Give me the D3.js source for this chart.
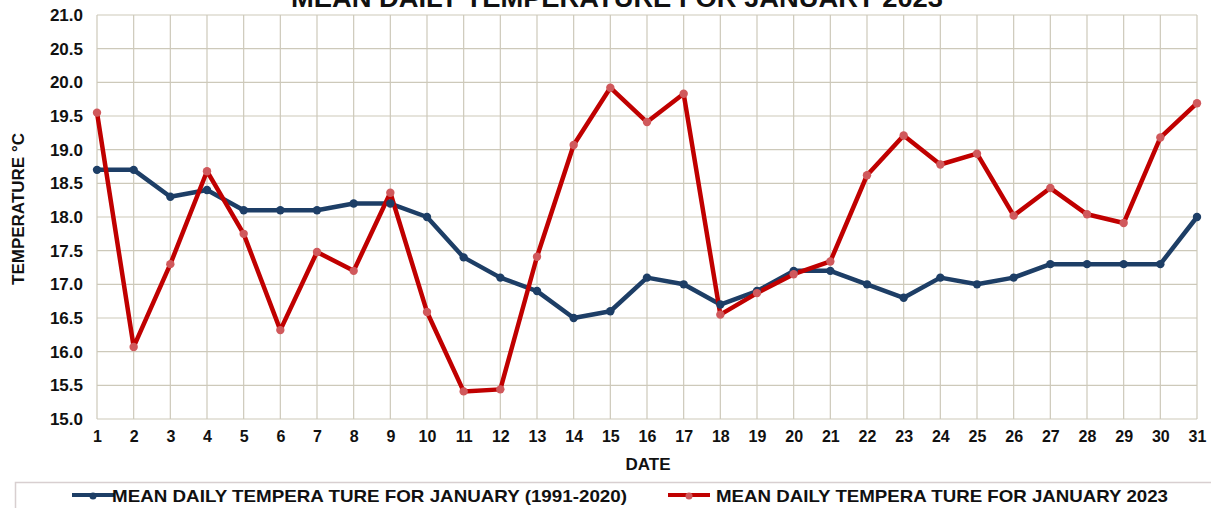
<!DOCTYPE html>
<html><head><meta charset="utf-8">
<script src="https://cdn.jsdelivr.net/npm/d3@7"></script>
<style>body{margin:0;background:#fff}svg{display:block;font-family:"Liberation Sans",Arial,sans-serif}</style>
</head><body>
<svg id="c" width="1211" height="508"></svg>
<script>
const days = d3.range(1, 32);
const normal1991_2020 = [18.7,18.7,18.3,18.4,18.1,18.1,18.1,18.2,18.2,18.0,17.4,17.1,16.9,16.5,16.6,17.1,17.0,16.7,16.9,17.2,17.2,17.0,16.8,17.1,17.0,17.1,17.3,17.3,17.3,17.3,18.0];
const jan2023 = [19.55,16.07,17.30,18.68,17.75,16.32,17.48,17.20,18.36,16.59,15.41,15.44,17.41,19.07,19.92,19.41,19.83,16.55,16.87,17.15,17.34,18.62,19.21,18.78,18.94,18.02,18.43,18.04,17.91,19.18,19.69];
const yTicks = [15.0,15.5,16.0,16.5,17.0,17.5,18.0,18.5,19.0,19.5,20.0,20.5,21.0];
const seriesNames = ["MEAN DAILY TEMPERA TURE FOR JANUARY (1991-2020)", "MEAN DAILY TEMPERA TURE FOR JANUARY 2023"];

const svg = d3.select("#c");
const L = 97, R = 1197, T = 15, B = 419;
const x = d3.scaleLinear().domain([1, 31]).range([L, R]);
const y = d3.scaleLinear().domain([15, 21]).range([B, T]);
const gridColor = "#cdc9ba";
const FF = "Liberation Sans, Arial, sans-serif";

// grid
svg.append("g").selectAll("line").data(yTicks).join("line")
  .attr("x1", L).attr("x2", R).attr("y1", d => y(d)).attr("y2", d => y(d))
  .attr("stroke", gridColor).attr("stroke-width", 1.2);
svg.append("g").selectAll("line").data(days).join("line")
  .attr("x1", d => x(d)).attr("x2", d => x(d)).attr("y1", T).attr("y2", B)
  .attr("stroke", gridColor).attr("stroke-width", 1.2);

// axes
const yAxis = d3.axisLeft(y).tickValues(yTicks).tickFormat(d3.format(".1f")).tickSize(0).tickPadding(14);
const gy = svg.append("g").attr("transform", `translate(${L},0)`).call(yAxis);
gy.select(".domain").remove();
gy.selectAll("text").attr("font-size", 17).attr("font-weight", "bold").attr("fill", "#111").attr("font-family", FF);

const xAxis = d3.axisBottom(x).tickValues(days).tickFormat(d3.format("d")).tickSize(0).tickPadding(12);
const gx = svg.append("g").attr("transform", `translate(0,${B})`).call(xAxis);
gx.select(".domain").remove();
gx.selectAll("text").attr("font-size", 16).attr("font-weight", "bold").attr("fill", "#111").attr("font-family", FF);

// titles
svg.append("text").attr("x", 617).attr("y", 7).attr("text-anchor", "middle")
  .attr("font-size", 25).attr("font-weight", "bold").attr("fill", "#111")
  .attr("textLength", 652).attr("lengthAdjust", "spacingAndGlyphs")
  .text("MEAN  DAILY  TEMPERATURE  FOR  JANUARY  2023");
svg.append("text").attr("x", 648).attr("y", 470).attr("text-anchor", "middle")
  .attr("font-size", 17).attr("font-weight", "bold").attr("fill", "#111").text("DATE");
svg.append("text").attr("transform", "translate(24,209) rotate(-90)").attr("text-anchor", "middle")
  .attr("font-size", 17).attr("font-weight", "bold").attr("fill", "#111")
  .attr("textLength", 152).attr("lengthAdjust", "spacingAndGlyphs").text("TEMPERATURE °C");

// lines
const series = [
  {vals: normal1991_2020, line: "#1d3e66", mark: "#1d3e66"},
  {vals: jan2023, line: "#c00000", mark: "#d0595c"}
];
const lineGen = d3.line().x((d, i) => x(days[i])).y(d => y(d));
series.forEach(s => {
  svg.append("path").datum(s.vals).attr("d", lineGen).attr("fill", "none")
    .attr("stroke", s.line).attr("stroke-width", 4.5).attr("stroke-linejoin", "round");
});
series.forEach(s => {
  svg.append("g").selectAll("circle").data(s.vals).join("circle")
    .attr("cx", (d, i) => x(days[i])).attr("cy", d => y(d)).attr("r", 4.2)
    .attr("fill", s.mark);
});

// legend
svg.append("rect").attr("x", 15.5).attr("y", 482.5).attr("width", 1200).attr("height", 30)
  .attr("fill", "#fff").attr("stroke", "#d8cfd0").attr("stroke-width", 1.5);
const legX = [72, 668];
const legW = [515, 452];
series.forEach((s, i) => {
  const g = svg.append("g").attr("transform", `translate(${legX[i]},495)`);
  g.append("line").attr("x1", 0).attr("x2", 42).attr("y1", 0).attr("y2", 0).attr("stroke", s.line).attr("stroke-width", 4);
  g.append("circle").attr("cx", 21).attr("cy", 1).attr("r", 3.5).attr("fill", s.mark);
  g.append("text").attr("x", i === 0 ? 40 : 48).attr("y", 6.5).attr("font-size", 17).attr("font-weight", "bold").attr("fill", "#111")
    .attr("textLength", legW[i]).attr("lengthAdjust", "spacingAndGlyphs").text(seriesNames[i]);
});
</script>
</body></html>
